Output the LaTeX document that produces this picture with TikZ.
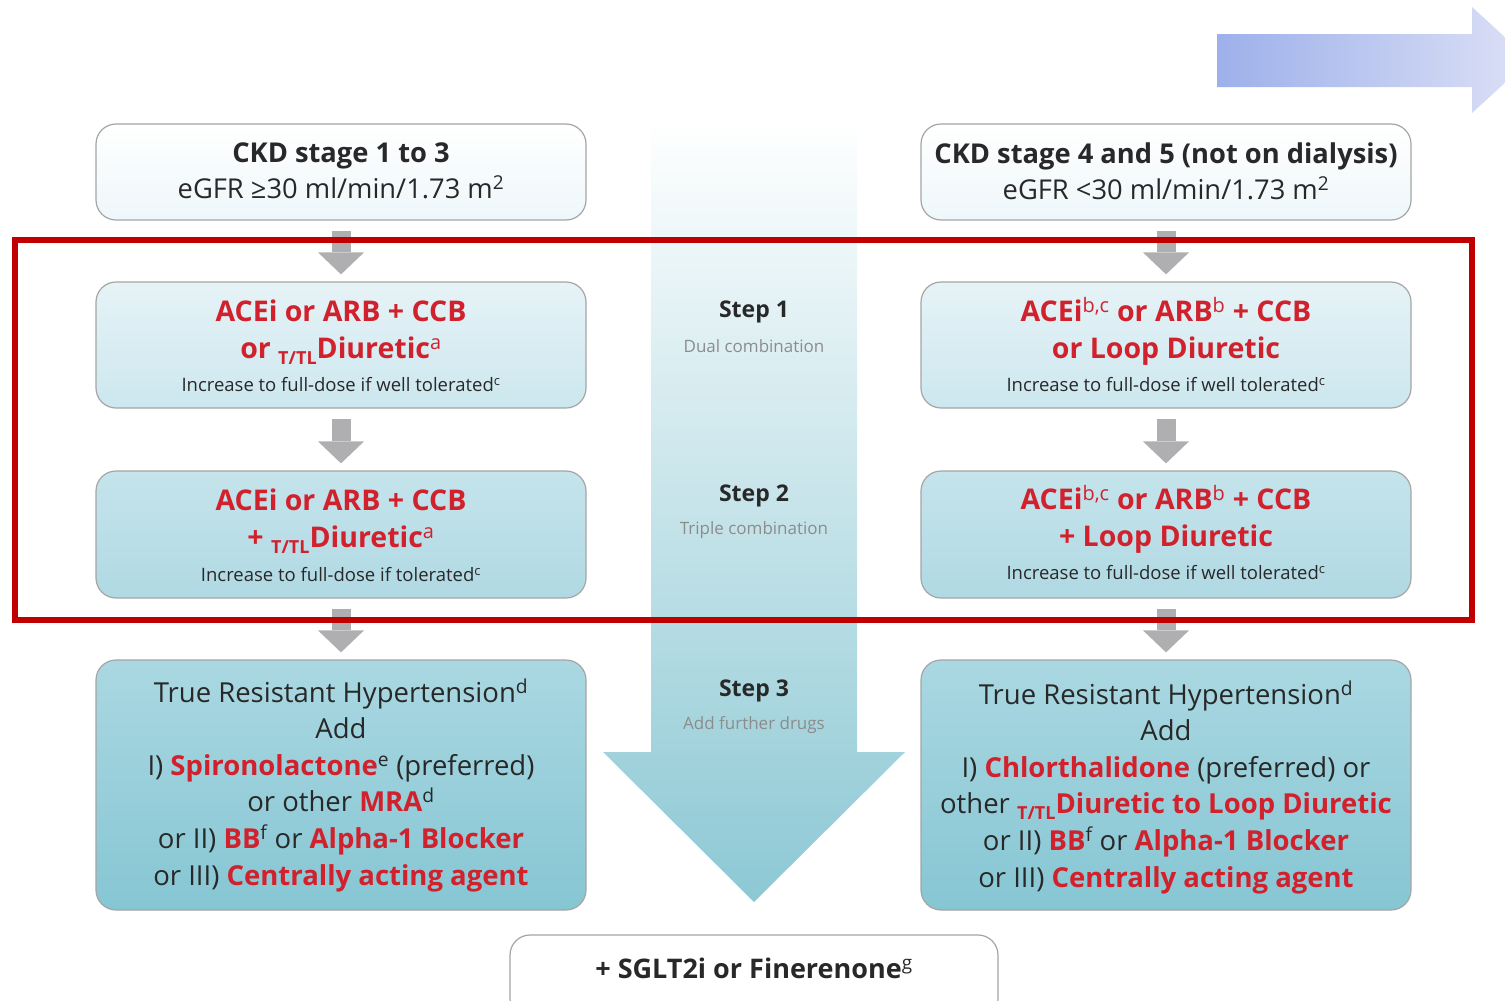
\documentclass[tikz,border=0pt]{standalone}
\usepackage{fontspec}
\setmainfont{Open Sans}
\usetikzlibrary{arrows.meta,calc}
\definecolor{redtxt}{RGB}{208,33,45}
\definecolor{darktxt}{RGB}{40,40,40}
\definecolor{greytxt}{RGB}{140,140,140}
\definecolor{boxline}{RGB}{165,165,165}
\definecolor{garrow}{RGB}{175,175,178}
\definecolor{frame}{RGB}{192,0,0}
\definecolor{cA}{RGB}{238,247,250}
\definecolor{cBt}{RGB}{230,243,247}
\definecolor{cBb}{RGB}{204,231,238}
\definecolor{cCt}{RGB}{197,228,236}
\definecolor{cCb}{RGB}{176,217,227}
\definecolor{cDt}{RGB}{170,216,226}
\definecolor{cDb}{RGB}{134,198,211}
\definecolor{bigbot}{RGB}{140,200,212}
\definecolor{tlA}{RGB}{157,176,234}
\definecolor{tlB}{RGB}{221,225,246}
\newcommand\myrd[1]{{\bfseries\color{redtxt}#1}}
\newcommand\myfn[1]{\textsuperscript{\mdseries #1}}
\newcommand\myttl{\raisebox{-0.4ex}{\fontsize{18}{18}\selectfont T/TL}}
\begin{document}
\begin{tikzpicture}[x=1pt,y=-1pt,
  box/.style={draw=boxline, line width=1.2pt, rounded corners=20pt, minimum width=490pt, inner sep=0pt},
  boxA/.style={box, top color=white, bottom color=cA, minimum height=96pt},
  boxB/.style={box, top color=cBt, bottom color=cBb, minimum height=126pt},
  boxC/.style={box, top color=cCt, bottom color=cCb, minimum height=127pt},
  boxD/.style={box, top color=cDt, bottom color=cDb, minimum height=250pt},
  headtxt/.style={text=darktxt, align=center, font=\fontsize{27.3}{36}\selectfont},
  redtx/.style={text=redtxt, align=center, font=\bfseries\fontsize{28.5}{37}\selectfont},
  smalltx/.style={text=darktxt, font=\fontsize{18.5}{20}\selectfont},
  bodytx/.style={text=darktxt, align=center, font=\fontsize{27.5}{36.6}\selectfont},
  steptx/.style={text=darktxt, font=\bfseries\fontsize{23}{24}\selectfont},
  stepsub/.style={text=greytxt, font=\fontsize{17}{18}\selectfont},
  garr/.style={draw=garrow, line width=19pt, shorten <=10pt, shorten >=7pt,
    -{Triangle[width=46pt,length=22pt,line width=0pt]}}
]
\useasboundingbox (0,0) rectangle (1505,1001);
\clip (0,0) rectangle (1505,1001);

% top-right arrow
\shade[left color=tlA, right color=tlB]
  (1217,34) -- (1472,34) -- (1472,7) -- (1530,60) -- (1472,113) -- (1472,87) -- (1217,87) -- cycle;

% big central arrow
\shade[top color=white, bottom color=bigbot]
  (651,120) -- (857,120) -- (857,752) -- (905,752) -- (754,902) -- (603,752) -- (651,752) -- cycle;

% left column boxes
\node[boxA] (L1) at (341,172) {};
\node[boxB] (L2) at (341,345) {};
\node[boxC] (L3) at (341,534.5) {};
\node[boxD] (L4) at (341,785) {};
% right column boxes
\node[boxA] (R1) at (1166,172) {};
\node[boxB] (R2) at (1166,345) {};
\node[boxC] (R3) at (1166,534.5) {};
\node[boxD] (R4) at (1166,785) {};
% bottom box
\node[draw=boxline, line width=1.2pt, rounded corners=20pt, fill=white, minimum width=488pt, minimum height=84pt] (B) at (754,977) {};

% grey arrows
\draw[garr] (L1.south) -- (L2.north);
\draw[garr] (L2.south) -- (L3.north);
\draw[garr] (L3.south) -- (L4.north);
\draw[garr] (R1.south) -- (R2.north);
\draw[garr] (R2.south) -- (R3.north);
\draw[garr] (R3.south) -- (R4.north);

% texts left
\node[headtxt] (L1t) at (341,171) {{\bfseries CKD stage 1 to 3}\\eGFR ≥30 ml/min/1.73 m\textsuperscript{2}};
\node[redtx] (L2t) at (341,332) {ACEi or ARB + CCB\\or \myttl Diuretic\myfn{a}};
\node[smalltx] (L2s) at (341,385) {Increase to full-dose if well tolerated\textsuperscript{c}};
\node[redtx] (L3t) at (341,521) {ACEi or ARB + CCB\\+ \myttl Diuretic\myfn{a}};
\node[smalltx] (L3s) at (341,575) {Increase to full-dose if tolerated\textsuperscript{c}};
\node[bodytx] (L4t) at (341,785) {True Resistant Hypertension\textsuperscript{d}\\Add\\I) \myrd{Spironolactone}\textsuperscript{e} (preferred)\\or other \myrd{MRA}\textsuperscript{d}\\or II) \myrd{BB}\textsuperscript{f} or \myrd{Alpha-1 Blocker}\\or III) \myrd{Centrally acting agent}};

% texts right
\node[headtxt] (R1t) at (1166,171) {{\bfseries CKD stage 4 and 5 (not on dialysis)}\\eGFR <30 ml/min/1.73 m\textsuperscript{2}};
\node[redtx] (R2t) at (1166,331) {ACEi\myfn{b,c} or ARB\myfn{b} + CCB\\or Loop Diuretic};
\node[smalltx] (R2s) at (1166,385) {Increase to full-dose if well tolerated\textsuperscript{c}};
\node[redtx] (R3t) at (1166,519) {ACEi\myfn{b,c} or ARB\myfn{b} + CCB\\+ Loop Diuretic};
\node[smalltx] (R3s) at (1166,573) {Increase to full-dose if well tolerated\textsuperscript{c}};
\node[bodytx] (R4t) at (1166,787) {True Resistant Hypertension\textsuperscript{d}\\Add\\I) \myrd{Chlorthalidone} (preferred) or\\other \myrd{\myttl Diuretic to Loop Diuretic}\\or II) \myrd{BB}\textsuperscript{f} or \myrd{Alpha-1 Blocker}\\or III) \myrd{Centrally acting agent}};

% steps
\node[steptx] (S1) at (754,312) {Step 1};
\node[stepsub] (S1s) at (754,346) {Dual combination};
\node[steptx] (S2) at (754,496) {Step 2};
\node[stepsub] (S2s) at (754,530) {Triple combination};
\node[steptx] (S3) at (754,691) {Step 3};
\node[stepsub] (S3s) at (754,725) {Add further drugs};

% bottom text
\node[text=darktxt, font=\bfseries\fontsize{27}{30}\selectfont] (Bt) at (754,968) {+ SGLT2i or Finerenone\textsuperscript{\mdseries g}};

% red frame
\draw[frame, line width=6pt] (15,240) rectangle (1472,620);
\end{tikzpicture}
\end{document}
